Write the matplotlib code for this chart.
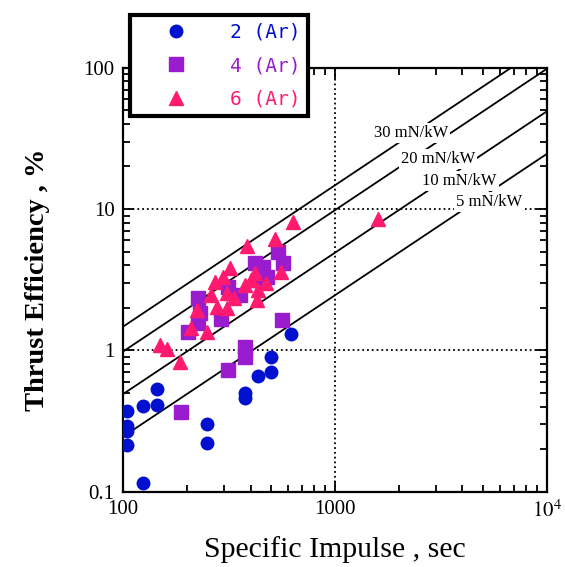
import numpy as np
import matplotlib
matplotlib.use('Agg')
from matplotlib import pyplot as plt
from matplotlib.ticker import LogLocator, NullFormatter, FixedLocator, FixedFormatter

plt.rcParams['font.family'] = 'Liberation Serif'
plt.rcParams['mathtext.fontset'] = 'stix'

# %% data
isp_2ar = [104, 104, 104, 104, 124, 145, 145, 124, 250, 250, 375, 375, 434, 501, 501, 622, 426]
eff_2ar = [0.372, 0.291, 0.268, 0.214, 0.404, 0.530, 0.410, 0.1145, 0.299, 0.220, 0.499, 0.460,
           0.661, 0.892, 0.699, 1.30, 3.14]

isp_4ar = [539, 569, 418, 457, 478, 313, 355, 226, 230, 291, 226, 203, 562, 375, 375, 313, 188, 432]
eff_4ar = [4.99, 4.13, 4.13, 3.91, 3.32, 2.82, 2.46, 2.33, 1.83, 1.68, 1.55, 1.35, 1.65,
           1.05, 0.897, 0.726, 0.367, 3.14]

isp_6ar = [520, 385, 321, 296, 273, 418, 404, 375, 471, 558, 434, 430, 310, 334, 259, 277,
           310, 223, 209, 250, 149, 161, 185, 638, 1607]
eff_6ar = [6.10, 5.47, 3.80, 3.32, 3.03, 3.51, 3.14, 2.90, 3.01, 3.60, 2.67, 2.27, 2.53, 2.33,
           2.46, 2.04, 1.98, 1.93, 1.45, 1.35, 1.09, 1.02, 0.822, 8.09, 8.46]

thrust_power = [30, 20, 10, 5]  # mN/kW
tp_label_isp = [2286, 3069, 3873, 5370]
tp_label_eff = [34.5, 22.6, 15.8, 11.2]

# %%
fig = plt.figure(figsize=(5.65, 5.67), dpi=100)
ax = fig.add_axes([0.2177, 0.1328, 0.7499, 0.7478])
ax.set_xscale('log')
ax.set_yscale('log')
ax.set_xlim(100, 1e4)
ax.set_ylim(0.1, 100)

# constant thrust-to-power lines: eff[%] = 100 * (T/P) * g * Isp / 2
g0 = 9.80665
isp_line = np.array([100, 1e4])
for tp, lx, ly in zip(thrust_power, tp_label_isp, tp_label_eff):
    ax.plot(isp_line, 100 * tp * 1e-6 * g0 * isp_line / 2, color='black', lw=1.3, zorder=2)
    ax.text(lx, ly, f'{tp} mN/kW', fontsize=12, ha='center', va='center', zorder=3,
            bbox=dict(facecolor='white', edgecolor='none', pad=1.5))

# grid at the decades
ax.axvline(1000, color='black', ls=':', lw=1.3, zorder=1)
for yv in [1, 10]:
    ax.axhline(yv, color='black', ls=':', lw=1.3, zorder=1)

blue = '#0010d0'
purple = '#9a1ccf'
pink = '#ff1a70'

ax.plot(isp_2ar, eff_2ar, 'o', ms=9, color=blue, mec=blue, label='2 (Ar)', zorder=4)
ax.plot(isp_4ar, eff_4ar, 's', ms=9.5, color=purple, mec=purple, label='4 (Ar)', zorder=5)
ax.plot(isp_6ar, eff_6ar, '^', ms=9.5, color=pink, mec=pink, label='6 (Ar)', zorder=6)

ax.xaxis.set_major_locator(FixedLocator([100, 1000, 1e4]))
ax.xaxis.set_major_formatter(FixedFormatter(['100', '1000', r'$10^4$']))
ax.yaxis.set_major_locator(FixedLocator([0.1, 1, 10, 100]))
ax.yaxis.set_major_formatter(FixedFormatter(['0.1', '1', '10', '100']))
ax.xaxis.set_minor_locator(LogLocator(base=10, subs=np.arange(2, 10)))
ax.yaxis.set_minor_locator(LogLocator(base=10, subs=np.arange(2, 10)))
ax.xaxis.set_minor_formatter(NullFormatter())
ax.yaxis.set_minor_formatter(NullFormatter())

ax.tick_params(which='both', direction='in', top=True, right=True, width=1.3, labelsize=15)
ax.tick_params(which='major', length=8, pad=6)
ax.tick_params(which='minor', length=5)
for sp in ax.spines.values():
    sp.set_linewidth(1.6)

ax.set_xlabel('Specific Impulse , sec', fontsize=21.5, labelpad=10)
ax.set_ylabel('Thrust Efficiency , %', fontsize=20.5, fontweight='bold', labelpad=24)

leg = ax.legend(loc='upper left', bbox_to_anchor=(120 / 565, 1 - 5 / 567),
                bbox_transform=fig.transFigure, frameon=True, fancybox=False,
                edgecolor='black', framealpha=1, borderpad=0.4, handlelength=4.0,
                handletextpad=0.75, labelspacing=0.75,
                prop={'family': 'DejaVu Sans Mono', 'size': 14})
leg.get_frame().set_linewidth(3)
leg.set_zorder(10)
for txt, c in zip(leg.get_texts(), [blue, purple, pink]):
    txt.set_color(c)

fig.savefig('out.png', dpi=100)
